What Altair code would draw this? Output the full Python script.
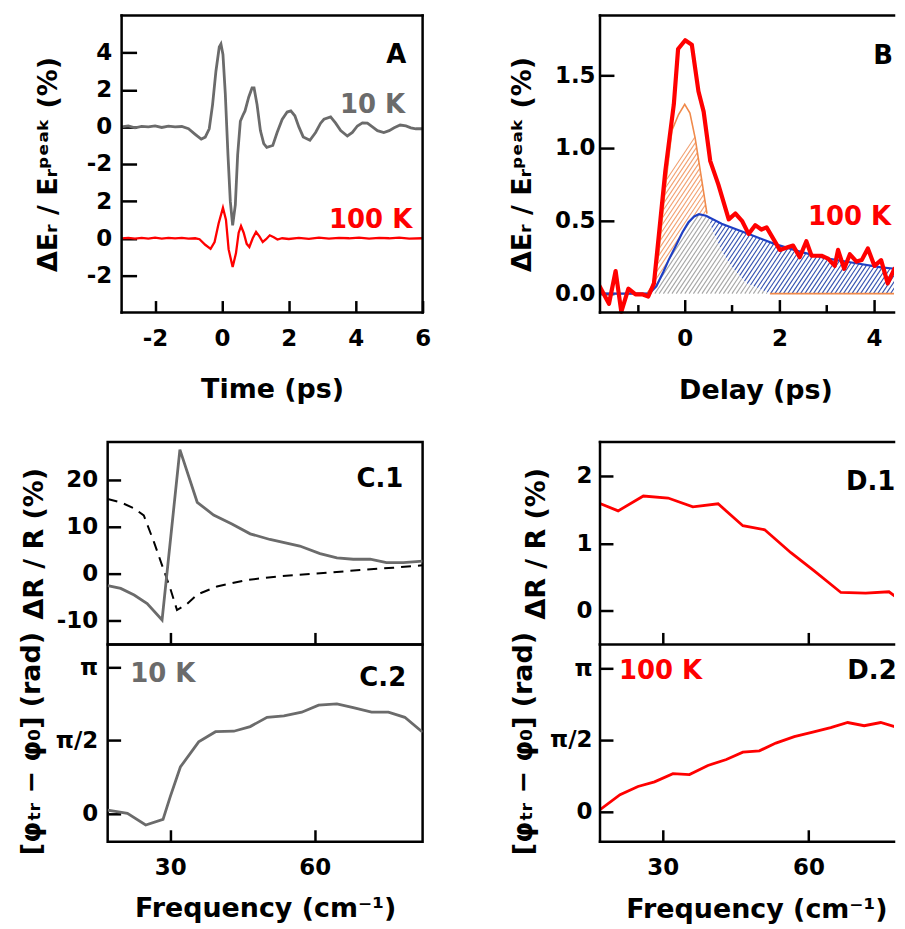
import altair as alt
import numpy as np
import pandas as pd

FONT = "DejaVu Sans"
BLACK = "#000000"
GRAY = "#6b6b6b"
RED = "#ff0000"
BLUE = "#1f3fc4"
ORANGE = "#f08a4b"
TW = 2.5
TICK_FS = 23
TITLE_FS = 27
ANN_FS = 26

# ---------------- Panel A: time-domain transients ----------------
a10_t = [-3.0, -2.8, -2.6, -2.4, -2.2, -2.0, -1.8, -1.6, -1.4, -1.2, -1.0, -0.8, -0.62, -0.5,
         -0.38, -0.28, -0.18, -0.08, -0.03, 0.03, 0.1, 0.18, 0.25, 0.32, 0.4, 0.47, 0.55, 0.62,
         0.69, 0.8, 0.9, 0.96, 1.05, 1.15, 1.25, 1.34, 1.52, 1.65, 1.8, 1.95, 2.06, 2.18, 2.3,
         2.43, 2.63, 2.8, 2.95, 3.05, 3.25, 3.4, 3.55, 3.75, 3.9, 4.05, 4.2, 4.35, 4.5, 4.65,
         4.84, 5.0, 5.15, 5.33, 5.5, 5.65, 5.8, 6.0]
a10_v = [0.0, 0.05, -0.05, 0.03, 0.0, 0.05, -0.03, 0.04, 0.0, 0.02, -0.1, -0.4, -0.66, -0.55,
         -0.1, 1.2, 3.0, 4.3, 4.46, 3.9, 1.8, -1.5, -4.0, -5.3, -4.2, -1.5, 0.3, 0.6,
         0.86, 1.6, 2.1, 2.1, 1.2, -0.2, -0.9, -1.1, -1.0, -0.3, 0.4, 0.8, 0.86, 0.6, 0.0,
         -0.54, -0.72, -0.3, 0.2, 0.41, 0.54, 0.2, -0.2, -0.49, -0.3, 0.05, 0.22, 0.2, 0.0, -0.2,
         -0.3, -0.2, -0.05, 0.1, 0.05, -0.05, -0.1, -0.1]
a100_t = [-3.0, -2.8, -2.6, -2.4, -2.2, -2.0, -1.8, -1.6, -1.4, -1.2, -1.0, -0.8, -0.67, -0.5,
          -0.34, -0.22, -0.1, 0.03, 0.12, 0.2, 0.32, 0.42, 0.5, 0.57, 0.65, 0.74, 0.82, 0.92,
          1.02, 1.12, 1.22, 1.32, 1.43, 1.55, 1.66, 1.8, 2.0, 2.3, 2.6, 2.9, 3.2, 3.5, 3.8,
          4.1, 4.4, 4.7, 5.0, 5.3, 5.6, 6.0]
a100_v = [0.0, 0.02, -0.02, 0.02, -0.02, 0.03, -0.02, 0.02, 0.0, 0.02, -0.02, 0.0, -0.05, -0.35,
          -0.57, -0.2, 0.8, 1.64, 1.0, -0.6, -1.55, -0.8, 0.3, 0.66, 0.3, -0.3, -0.47, 0.0,
          0.34, 0.1, -0.2, -0.05, 0.16, 0.05, -0.07, 0.0, -0.04, 0.02, -0.03, 0.03, -0.02, 0.02, 0.0,
          0.03, -0.02, 0.02, 0.0, 0.03, -0.02, 0.0]
A_SHIFT = 6  # vertical offset of the 10 K trace

# ---------------- Panel B: pump-probe delay scan ----------------
b_red_t = [-1.81, -1.6, -1.46, -1.34, -1.19, -1.04, -0.9, -0.77, -0.65, -0.55, -0.41, -0.23,
           -0.14, 0.01, 0.15, 0.29, 0.4, 0.54, 0.71, 0.93, 1.07, 1.21, 1.35, 1.49, 1.62, 1.73,
           2.01, 2.19, 2.29, 2.43, 2.57, 2.68, 2.89, 3.03, 3.17, 3.24, 3.37, 3.49, 3.63, 3.74,
           3.87, 4.01, 4.15, 4.29, 4.43, 4.62]
b_red_v = [0.057, -0.07, 0.155, -0.125, 0.034, -0.005, -0.005, -0.02, 0.07, 0.39, 0.84, 1.30,
           1.68, 1.74, 1.71, 1.39, 1.25, 0.91, 0.75, 0.51, 0.55, 0.50, 0.41, 0.47, 0.44, 0.455,
           0.30, 0.32, 0.33, 0.25, 0.36, 0.26, 0.26, 0.24, 0.19, 0.30, 0.17, 0.27, 0.22, 0.23,
           0.31, 0.19, 0.23, 0.07, 0.17, 0.21]
b_blue_t = [-1.8, -0.75, -0.6, -0.45, -0.34, -0.2, -0.05, 0.08, 0.2, 0.3, 0.45, 0.78, 1.35,
            1.91, 2.47, 3.03, 3.59, 4.15, 4.62]
b_blue_v = [0.0, 0.0, 0.05, 0.15, 0.23, 0.32, 0.42, 0.49, 0.53, 0.545, 0.535, 0.48, 0.41,
            0.34, 0.285, 0.24, 0.21, 0.18, 0.165]
b_or_t = [-1.8, -0.8, -0.69, -0.55, -0.41, -0.27, -0.13, 0.0, 0.11, 0.22, 0.36, 0.47, 0.6,
          0.8, 1.0, 1.3, 1.8, 4.62]
b_or_v = [0.0, 0.0, 0.05, 0.27, 0.73, 1.12, 1.23, 1.30, 1.24, 1.07, 0.78, 0.55, 0.42, 0.28,
          0.18, 0.07, 0.0, 0.0]

# ---------------- Panel C: 10 K spectra ----------------
c1_f = [17.0, 19.7, 22.5, 25.2, 28.3, 32.0, 35.6, 39.0, 42.8, 46.6, 50.7, 56.9, 61.1, 64.6,
        68.0, 71.5, 74.9, 78.4, 82.4]
c1_v = [-2.5, -3.1, -4.5, -6.3, -9.8, 26.4, 15.2, 12.5, 10.6, 8.5, 7.3, 5.9, 4.3, 3.4,
        3.1, 3.1, 2.4, 2.4, 2.7]
c1d_f = [17.0, 19.7, 22.5, 24.5, 26.6, 28.3, 30.0, 31.4, 33.4, 35.6, 39.7, 45.9, 52.8, 61.1,
         69.4, 76.3, 82.4]
c1d_v = [15.9, 15.2, 13.9, 12.4, 6.8, 1.8, -3.1, -7.7, -6.5, -4.4, -2.7, -1.3, -0.5, 0.1,
         0.8, 1.3, 1.8]
c2_f = [17.0, 21.1, 24.9, 28.5, 30.0, 32.1, 35.9, 39.4, 43.2, 46.6, 50.1, 53.6, 57.3, 60.8,
        64.6, 68.0, 71.8, 75.3, 78.7, 82.4]
c2_v = [0.07, 0.0, -0.25, -0.13, 0.36, 1.0, 1.54, 1.76, 1.77, 1.87, 2.07, 2.10, 2.18, 2.33,
        2.36, 2.28, 2.18, 2.18, 2.07, 1.75]

# ---------------- Panel D: 100 K spectra ----------------
d1_f = [17.07, 20.8, 26.0, 31.1, 36.2, 41.4, 46.5, 51.0, 56.4, 61.2, 66.7, 71.8, 76.6, 79.6]
d1_v = [1.59, 1.48, 1.70, 1.67, 1.54, 1.585, 1.26, 1.20, 0.86, 0.59, 0.27, 0.26, 0.28, 0.12]
d2_f = [17.07, 21.2, 24.9, 28.3, 32.1, 35.5, 39.3, 43.1, 46.5, 49.9, 53.3, 57.1, 60.9, 64.6,
        68.1, 71.5, 74.9, 78.4, 79.6]
d2_v = [0.04, 0.37, 0.55, 0.65, 0.83, 0.81, 1.01, 1.14, 1.30, 1.33, 1.50, 1.64, 1.74, 1.84,
        1.95, 1.88, 1.95, 1.84, 1.97]

# ---------------- geometry ----------------
GAP = 130          # vertical gap between the two rows (absorbed in the top cells)
INSET = 14         # panel A frame starts 14 px right of panel C frame
CW, DW = 316, 295  # cell widths of left / right columns (right column is cut at page edge)
TOPH = 298         # visible frame height of A and B
H1, H2 = 203, 198
AW = CW - INSET    # 302
A_SX = AW / 9.0
A_X = [-3 - INSET / A_SX, 6]
A_SY = TOPH / 16.0
A_Y = [-4 - GAP / A_SY, 12]
B_SX = 302 / (4.57 + 1.79)
B_X = [-1.79, -1.79 + DW / B_SX]
B_SY = TOPH / (1.91 + 0.13)
B_Y = [-0.13 - GAP / B_SY, 1.91]
C_X, C1_Y, C2_Y = [17.0, 82.4], [-15, 28], [-0.61, 3.64]
D_SX = 302 / (79.08 - 17.07)
D_X, D1_Y, D2_Y = [17.07, 17.07 + DW / D_SX], [-0.5, 2.5], [-0.66, 3.66]
PI = float(np.pi)
HYPHEN = "'' + datum.value"


def sc(dom):
    return alt.Scale(domain=dom, nice=False, zero=False)


def xax(values, size, title=None, labels=True, title_y=0, pad=15, expr=None, off=None,
        title_x=None):
    kw = dict(values=values, tickSize=size, offset=-(size if off is None else off),
              domain=False, ticks=True, tickWidth=TW, tickColor=BLACK, grid=False,
              labels=labels, labelFlush=False, labelOverlap=False, labelFont=FONT,
              labelFontSize=TICK_FS, labelFontWeight="bold", labelColor=BLACK,
              labelPadding=pad, title=title)
    if expr:
        kw["labelExpr"] = expr
    if title:
        kw.update(titleFont=FONT, titleFontSize=TITLE_FS, titleFontWeight="bold",
                  titleColor=BLACK, titleBaseline="alphabetic", titleY=title_y)
        if title_x is not None:
            kw["titleX"] = title_x
    return alt.Axis(**kw)


def yax(values, size, title, title_x, pad=8, expr=None, fmt=None, off=None, title_y=None):
    kw = dict(values=values, tickSize=size, offset=-(size if off is None else off),
              domain=False, ticks=True, tickWidth=TW, tickColor=BLACK, grid=False,
              labelFlush=False, labelOverlap=False, labelFont=FONT, labelFontSize=TICK_FS,
              labelFontWeight="bold", labelColor=BLACK, labelPadding=pad, title=title,
              titleFont=FONT, titleFontSize=TITLE_FS, titleFontWeight="bold",
              titleColor=BLACK, titleBaseline="alphabetic", titleX=title_x)
    if title_y is not None:
        kw["titleY"] = title_y
    if expr:
        kw["labelExpr"] = expr
    if fmt:
        kw["format"] = fmt
    return alt.Axis(**kw)


def texts(rows, align, xaxis, yaxis):
    df = pd.DataFrame(rows, columns=["label", "x", "y", "c"])
    return alt.Chart(df).mark_text(align=align, baseline="alphabetic", font=FONT,
                                   fontSize=ANN_FS, fontWeight="bold").encode(
        x=alt.X("x:Q", axis=xaxis), y=alt.Y("y:Q", axis=yaxis),
        text="label:N", color=alt.Color("c:N", scale=None))


def frame_rules(x0, x1, h, sides):
    one = pd.DataFrame({"k": [0]})
    out = []
    base = alt.Chart(one).mark_rule(color=BLACK, strokeWidth=TW, strokeCap="square")
    if "top" in sides:
        out.append(base.encode(x=alt.value(x0), x2=alt.value(x1), y=alt.value(0)))
    if "bottom" in sides:
        out.append(base.encode(x=alt.value(x0), x2=alt.value(x1), y=alt.value(h)))
    if "left" in sides:
        out.append(base.encode(x=alt.value(x0), y=alt.value(0), y2=alt.value(h)))
    if "right" in sides:
        out.append(base.encode(x=alt.value(x1), y=alt.value(0), y2=alt.value(h)))
    return out


NOLINE = alt.ViewBackground(strokeOpacity=0, strokeWidth=0)

# ---------------- Panel A ----------------
dfA10 = pd.DataFrame({"t": a10_t, "v": np.array(a10_v) + A_SHIFT})
dfA100 = pd.DataFrame({"t": a100_t, "v": a100_v})
a_yexpr = "datum.value <= 2 ? '' + datum.value : '' + (datum.value - 6)"
AXx = xax([-2, 0, 2, 4, 6], 12, "Time (ps)", title_y=97, off=GAP + 12, title_x=INSET + AW / 2,
          expr=HYPHEN)
AXy = yax([-2, 0, 2, 4, 6, 8, 10], 15, "ΔEᵣ / Eᵣᵖᵉᵃᵏ (%)", -80, pad=10, expr=a_yexpr,
          off=INSET + 15, title_y=TOPH / 2)
lineA10 = alt.Chart(dfA10).mark_line(color=GRAY, strokeWidth=2.8, clip=True).encode(
    x=alt.X("t:Q", scale=sc(A_X), axis=AXx), y=alt.Y("v:Q", scale=sc(A_Y), axis=AXy))
lineA100 = alt.Chart(dfA100).mark_line(color=RED, strokeWidth=2.3, clip=True).encode(
    x=alt.X("t:Q", axis=AXx), y=alt.Y("v:Q", axis=AXy))
txtA = texts([("A", 5.51, 9.45, BLACK), ("10 K", 5.48, 6.75, GRAY),
              ("100 K", 5.69, 0.56, RED)], "right", AXx, AXy)
panelA = alt.layer(lineA10, lineA100, txtA,
                   *frame_rules(INSET, CW, TOPH, ["top", "bottom", "left", "right"])
                   ).properties(width=CW, height=TOPH + GAP, view=NOLINE)


# ---------------- Panel B ----------------
def hatch_segments(step_px=4.3, slope=1.5):
    sx = B_SX
    sy = B_SY
    tb, vb = np.array(b_blue_t), np.array(b_blue_v)
    to, vo = np.array(b_or_t), np.array(b_or_v)
    dvdt = slope * sx / sy
    vmax = max(vb.max(), vo.max())
    s = np.linspace(1e-4, vmax / dvdt + 0.05, 700)
    cols = {"g": "#a6a6a6", "b": "#3552b0", "o": "#f2a070"}
    rows = []
    for t0 in np.arange(B_X[0] - 0.2, B_X[1], step_px / sx):
        t = t0 + s
        v = s * dvdt
        fb = np.interp(t, tb, vb)
        fo = np.interp(t, to, vo)
        ib, io = v < fb, v < fo
        cls = np.where(ib & io, "g", np.where(ib, "b", np.where(io, "o", "")))
        start = 0
        n = len(cls)
        for i in range(1, n + 1):
            if i == n or cls[i] != cls[start]:
                if cls[start] != "" and i - 1 > start:
                    rows.append({"t1": t[start], "v1": v[start], "t2": t[i - 1],
                                 "v2": v[i - 1], "c": cols[cls[start]]})
                start = i
    return pd.DataFrame(rows)


BXy = yax([0, 0.5, 1.0, 1.5], 14, "ΔEᵣ / Eᵣᵖᵉᵃᵏ (%)", -84, pad=5, fmt=".1f", title_y=TOPH / 2)
BXx = xax([0, 2, 4], 13, "Delay (ps)", title_y=99, off=GAP + 13, title_x=156)
BXminor = alt.Axis(orient="top", offset=-TOPH, values=[-1, 1, 3], tickSize=8, ticks=True,
                   labels=False, domain=False, title=None, tickWidth=TW, tickColor=BLACK,
                   grid=False)

dfH = hatch_segments()
hatch = alt.Chart(dfH).mark_rule(strokeWidth=1.1, clip=True).encode(
    x=alt.X("t1:Q", scale=sc(B_X), axis=None), x2="t2:Q",
    y=alt.Y("v1:Q", scale=sc(B_Y), axis=BXy), y2="v2:Q",
    color=alt.Color("c:N", scale=None))
dfOr = pd.DataFrame({"t": b_or_t, "v": b_or_v})
dfOr["seg"] = np.where(dfOr["t"] <= 0.47, "rise", np.where(dfOr["t"] >= 1.8, "tail", "hidden"))
lineOr = alt.Chart(dfOr).transform_filter("datum.seg != 'hidden'").mark_line(
    color=ORANGE, strokeWidth=1.6, clip=True).encode(
    x=alt.X("t:Q", axis=None), y=alt.Y("v:Q", axis=BXy), detail="seg:N")
dfBl = pd.DataFrame({"t": b_blue_t, "v": b_blue_v})
lineBl = alt.Chart(dfBl).mark_line(color=BLUE, strokeWidth=2.2, clip=True).encode(
    x=alt.X("t:Q", axis=BXminor), y=alt.Y("v:Q", axis=BXy))
dfRed = pd.DataFrame({"t": b_red_t, "v": b_red_v})
lineRed = alt.Chart(dfRed).mark_line(color=RED, strokeWidth=4.2, clip=True,
                                     strokeJoin="round").encode(
    x=alt.X("t:Q", axis=BXx), y=alt.Y("v:Q", axis=BXy))
txtB = texts([("B", 4.40, 1.575, BLACK), ("100 K", 4.36, 0.474, RED)], "right", None, BXy)
panelB = alt.layer(hatch, lineOr, lineBl, lineRed, txtB,
                   *frame_rules(0, DW, TOPH, ["top", "bottom", "left"])).resolve_axis(
    x="independent").properties(width=DW, height=TOPH + GAP, view=NOLINE)

# ---------------- Panel C ----------------
pi_expr = "datum.value < 0.5 ? '0' : (datum.value < 2 ? 'π/2' : 'π')"
C1x = xax([30, 60], 12, labels=False)
C1y = yax([-10, 0, 10, 20], 13, "ΔR / R (%)", -78, pad=10, expr=HYPHEN)
dfC1 = pd.DataFrame({"f": c1_f, "v": c1_v})
dfC1d = pd.DataFrame({"f": c1d_f, "v": c1d_v})
c1_dash = alt.Chart(dfC1d).mark_line(color=BLACK, strokeWidth=2.0, strokeDash=[10, 7],
                                     clip=True).encode(
    x=alt.X("f:Q", scale=sc(C_X), axis=C1x), y=alt.Y("v:Q", scale=sc(C1_Y), axis=C1y))
c1_solid = alt.Chart(dfC1).mark_line(color=GRAY, strokeWidth=2.8, clip=True).encode(
    x=alt.X("f:Q", axis=C1x), y=alt.Y("v:Q", axis=C1y))
txtC1 = texts([("C.1", 78.4, 18.4, BLACK)], "right", C1x, C1y)
panelC1 = alt.layer(c1_dash, c1_solid, txtC1).properties(width=CW, height=H1)

C2x = xax([30, 60], 12, "Frequency (cm⁻¹)", title_y=87, pad=15)
C2y = yax([0, PI / 2, PI], 13, "[φₜᵣ − φ₀] (rad)", -81, pad=10, expr=pi_expr)
dfC2 = pd.DataFrame({"f": c2_f, "v": c2_v})
c2_line = alt.Chart(dfC2).mark_line(color=GRAY, strokeWidth=2.8, clip=True).encode(
    x=alt.X("f:Q", scale=sc(C_X), axis=C2x), y=alt.Y("v:Q", scale=sc(C2_Y), axis=C2y))
txtC2r = texts([("C.2", 79.0, 2.74, BLACK)], "right", C2x, C2y)
txtC2l = texts([("10 K", 21.7, 2.83, GRAY)], "left", C2x, C2y)
panelC2 = alt.layer(c2_line, txtC2r, txtC2l).properties(width=CW, height=H2)

# ---------------- Panel D ----------------
D1x = xax([30, 60], 12, labels=False)
D1y = yax([0, 1, 2], 13, "ΔR / R (%)", -69, pad=8)
dfD1 = pd.DataFrame({"f": d1_f, "v": d1_v})
d1_line = alt.Chart(dfD1).mark_line(color=RED, strokeWidth=2.8, clip=True).encode(
    x=alt.X("f:Q", scale=sc(D_X), axis=D1x), y=alt.Y("v:Q", scale=sc(D1_Y), axis=D1y))
txtD1 = texts([("D.1", 77.9, 1.79, BLACK)], "right", D1x, D1y)
panelD1 = alt.layer(d1_line, txtD1, *frame_rules(0, DW, H1, ["top", "bottom", "left"])
                    ).properties(width=DW, height=H1, view=NOLINE)

D2x = xax([30, 60], 12, "Frequency (cm⁻¹)", title_y=88, pad=15, title_x=157)
D2y = yax([0, PI / 2, PI], 13, "[φₜᵣ − φ₀] (rad)", -82, pad=8, expr=pi_expr)
dfD2 = pd.DataFrame({"f": d2_f, "v": d2_v})
d2_line = alt.Chart(dfD2).mark_line(color=RED, strokeWidth=2.8, clip=True).encode(
    x=alt.X("f:Q", scale=sc(D_X), axis=D2x), y=alt.Y("v:Q", scale=sc(D2_Y), axis=D2y))
txtD2r = texts([("D.2", 78.2, 2.91, BLACK)], "right", D2x, D2y)
txtD2l = texts([("100 K", 20.97, 2.91, RED)], "left", D2x, D2y)
panelD2 = alt.layer(d2_line, txtD2r, txtD2l, *frame_rules(0, DW, H2, ["bottom", "left"])
                    ).properties(width=DW, height=H2, view=NOLINE)

# ---------------- layout: one 2-column grid ----------------
chart = alt.concat(panelA, panelB, panelC1, panelD1, panelC2, panelD2, columns=2,
                   spacing={"row": 0, "column": 178},
                   bounds="flush").properties(
    padding={"left": 8, "top": 4, "right": 0, "bottom": 0}, background="white"
).configure_view(stroke=BLACK, strokeWidth=TW)

chart.save("out.html", embed_options={"renderer": "svg", "actions": False})
